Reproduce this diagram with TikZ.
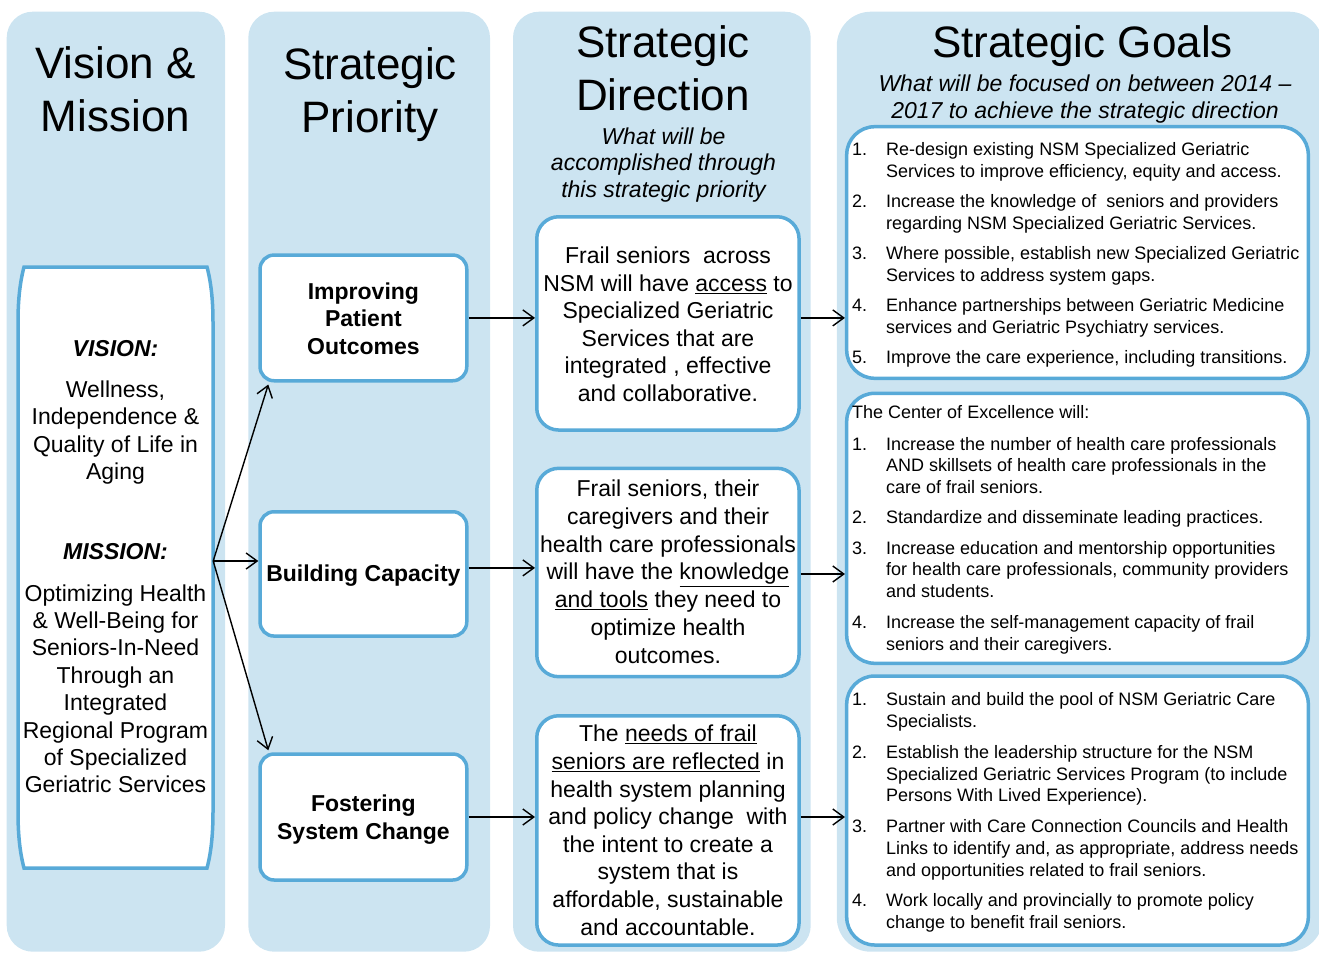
\documentclass[tikz,border=0pt]{standalone}
\usepackage{fontspec}
\setmainfont{Liberation Sans}
\usetikzlibrary{arrows.meta}
\definecolor{colbg}{RGB}{204,228,241}
\definecolor{bord}{RGB}{88,170,216}
\newcommand\goalitem[4]{%
  \node[gtext, anchor=base west] (#1n) at (852,#3) {#2.};
  \node[gtext, anchor=north west, align=left] (#1) at (886,#3-15.19) {\strut #4};
}
\begin{document}
\begin{tikzpicture}[x=1pt,y=-1pt,
  colbox/.style={fill=colbg, rounded corners=26pt},
  cbox/.style={draw=bord, line width=3.5pt, fill=white, inner sep=0pt},
  pbox/.style={cbox, rounded corners=14pt, minimum width=206.7pt},
  dbox/.style={cbox, rounded corners=22pt, minimum width=262.3pt},
  gbox/.style={cbox, rounded corners=28pt, minimum width=461.6pt},
  titletext/.style={font=\fontsize{44}{52.7}\selectfont, align=center, inner sep=0pt, anchor=north},
  subtext/.style={font=\fontsize{23}{26.5}\selectfont\itshape, align=center, inner sep=0pt, anchor=north},
  btext/.style={font=\fontsize{23}{27.6}\selectfont, align=center, inner sep=0pt},
  prtext/.style={font=\fontsize{23}{27.4}\selectfont\bfseries, align=center, inner sep=0pt},
  gtext/.style={font=\fontsize{18}{21.7}\selectfont, inner sep=0pt},
  arr/.style={line width=1.4pt, -{Straight Barb[length=11pt,width=16pt]}}
]
\useasboundingbox (0,0) rectangle (1319,953);
\begin{scope}
\clip (0,0) rectangle (1319,953);
% column backgrounds
\fill[colbox] (6.7,11.7) rectangle (225,951.7);
\fill[colbox] (248.3,11.7) rectangle (490,951.7);
\fill[colbox] (513,11.7) rectangle (810.7,951.7);
\fill[colbox, rounded corners=34pt] (836.8,11.7) rectangle (1323,951.7);
\end{scope}

% column titles
\node[titletext] (t1) at (115.5,41.4) {\strut Vision \&\\Mission};
\node[titletext] (t2) at (370,42.4) {\strut Strategic\\Priority};
\node[titletext] (t3) at (663,20.4) {\strut Strategic\\Direction};
\node[subtext] (s3) at (663.5,125.5) {\strut What will be\\accomplished through\\this strategic priority};
\node[font=\fontsize{44}{52.7}\selectfont, inner sep=0pt, anchor=base] (t4) at (1082.5,57.3) {Strategic Goals};
\node[subtext] (s4) at (1085,73.1) {\strut What will be focused on between 2014 –\\2017 to achieve the strategic direction};

% vision & mission box
\node[inner sep=0pt, minimum width=195pt, minimum height=601pt] (vision) at (115.5,567.5) {};
\draw[draw=bord, line width=3.5pt, fill=white] (24,267) -- (207,267)
  .. controls (211,282) and (213,300) .. (213,322) -- (213,812)
  .. controls (213,835) and (211,853) .. (207,868) -- (24,868)
  .. controls (20,853) and (18,835) .. (18,812) -- (18,322)
  .. controls (18,300) and (20,282) .. (24,267) -- cycle;
\node[prtext, font=\fontsize{23}{27.4}\selectfont\bfseries\itshape, anchor=base] (vis) at (115.5,356) {VISION:};
\node[btext, font=\fontsize{23}{27.4}\selectfont, anchor=north] (vist) at (115.5,378.1) {\strut Wellness,\\Independence \&\\Quality of Life in\\Aging};
\node[prtext, font=\fontsize{23}{27.4}\selectfont\bfseries\itshape, anchor=base] (mis) at (115.5,559.3) {MISSION:};
\node[btext, font=\fontsize{23}{27.4}\selectfont, anchor=north] (mist) at (115.5,581.8) {\strut Optimizing Health\\\& Well-Being for\\Seniors-In-Need\\Through an\\Integrated\\Regional Program\\of Specialized\\Geriatric Services};

% priority boxes
\node[pbox, minimum height=125.7pt] (p1) at (363.4,317.9) {};
\node[pbox, minimum height=124.3pt] (p2) at (363.4,573.9) {};
\node[pbox, minimum height=126pt] (p3) at (363.4,817) {};
\node[prtext, anchor=north] (p1t) at (363.4,280.1) {\strut Improving\\Patient\\Outcomes};
\node[prtext, anchor=base] (p2t) at (363.4,581.7) {Building Capacity};
\node[prtext, font=\fontsize{23}{27.6}\selectfont\bfseries, anchor=north] (p3t) at (363.4,792.4) {\strut Fostering\\System Change};

% direction boxes
\node[dbox, minimum height=213.3pt] (d1) at (667.9,323.4) {};
\node[dbox, minimum height=208.4pt] (d2) at (667.9,572.5) {};
\node[dbox, minimum height=229.3pt] (d3) at (667.9,830.4) {};
\node[btext, anchor=north] (d1t) at (668,244.0) {\strut Frail seniors\ \ across\\NSM will have \underline{access} to\\Specialized Geriatric\\Services that are\\integrated , effective\\and collaborative.};
\node[btext, font=\fontsize{23}{27.7}\selectfont, anchor=north] (d2t) at (668,477.3) {\strut Frail seniors, their\\caregivers and their\\health care professionals\\will have the \underline{knowledge}\\\underline{and tools} they need to\\optimize health\\outcomes.};
\node[btext, anchor=north] (d3t) at (668,722.4) {\strut The \underline{needs of frail}\\\underline{seniors are reflected} in\\health system planning\\and policy change\ \ with\\the intent to create a\\system that is\\affordable, sustainable\\and accountable.};

% goal boxes
\node[gbox, minimum height=251.6pt] (g1) at (1077.5,252.5) {};
\node[gbox, minimum height=270pt] (g2) at (1077.5,528.3) {};
\node[gbox, minimum height=269pt] (g3) at (1077.5,810.5) {};

\goalitem{ga}{1}{155.7}{Re-design existing NSM Specialized Geriatric\\Services to improve efficiency, equity and access.}
\goalitem{gb}{2}{207.7}{Increase the knowledge of\ \ seniors and providers\\regarding NSM Specialized Geriatric Services.}
\goalitem{gc}{3}{259.7}{Where possible, establish new Specialized Geriatric\\Services to address system gaps.}
\goalitem{gd}{4}{311.7}{Enhance partnerships between Geriatric Medicine\\services and Geriatric Psychiatry services.}
\goalitem{ge}{5}{363.7}{Improve the care experience, including transitions.}

\node[gtext, anchor=base west] (ghead) at (852,418.3) {The Center of Excellence will:};
\goalitem{gf}{1}{450}{Increase the number of health care professionals\\AND skillsets of health care professionals in the\\care of frail seniors.}
\goalitem{gg}{2}{523.3}{Standardize and disseminate leading practices.}
\goalitem{gh}{3}{554}{Increase education and mentorship opportunities\\for health care professionals, community providers\\and students.}
\goalitem{gi}{4}{628.3}{Increase the self-management capacity of frail\\seniors and their caregivers.}

\goalitem{gj}{1}{705.7}{Sustain and build the pool of NSM Geriatric Care\\Specialists.}
\goalitem{gk}{2}{758.3}{Establish the leadership structure for the NSM\\Specialized Geriatric Services Program (to include\\Persons With Lived Experience).}
\goalitem{gl}{3}{832.7}{Partner with Care Connection Councils and Health\\Links to identify and, as appropriate, address needs\\and opportunities related to frail seniors.}
\goalitem{gm}{4}{906.7}{Work locally and provincially to promote policy\\change to benefit frail seniors.}

% connectors
\coordinate (fan) at ([yshift=6.5pt]vision.east);
\draw[arr] (fan) -- ([shift={(10pt,-2pt)}]p1.south west);
\draw[arr] (fan) -- (fan -| p2.west);
\draw[arr] (fan) -- ([shift={(10pt,2pt)}]p3.north west);

\draw[arr] (p1.east) -- (p1.east -| d1.west);
\draw[arr] ([yshift=6pt]p2.east) -- ([yshift=6pt]p2.east -| d2.west);
\draw[arr] (p3.east) -- (p3.east -| d3.west);

\draw[arr] (p1.east -| d1.east) -- (p1.east -| g1.west);
\draw[arr] ([yshift=-1.5pt]d2.east) -- ([yshift=-1.5pt]d2.east -| g2.west);
\draw[arr] (p3.east -| d3.east) -- (p3.east -| g3.west);
\end{tikzpicture}
\end{document}
